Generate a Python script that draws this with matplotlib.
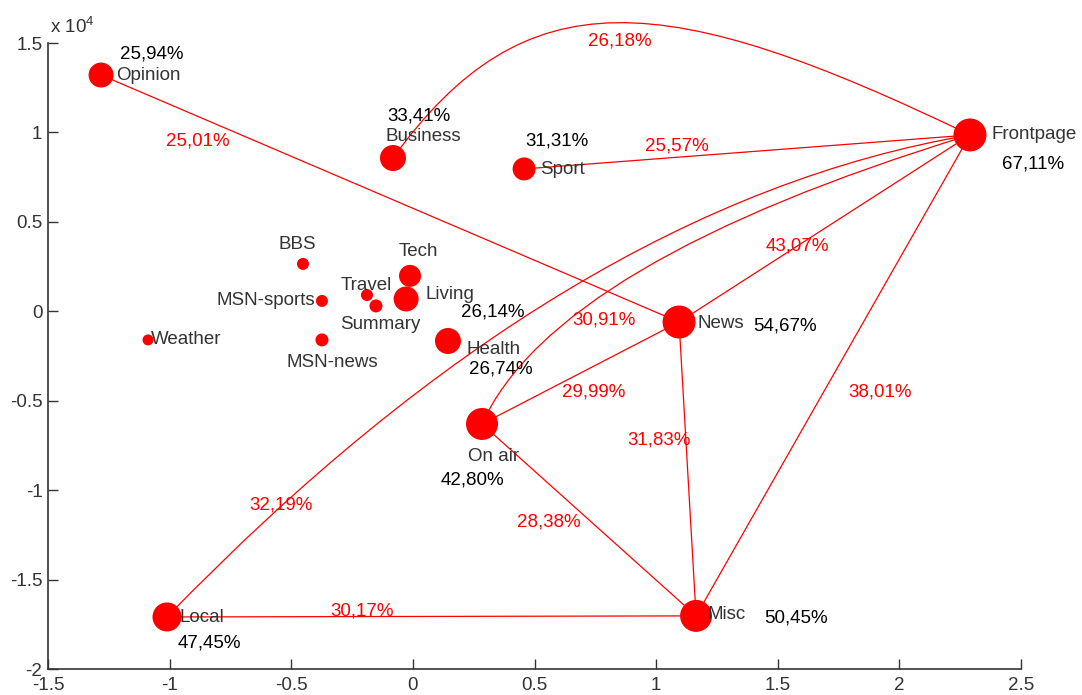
import numpy as np
import matplotlib
matplotlib.use("Agg")
import matplotlib.pyplot as plt
from matplotlib.path import Path
from matplotlib.patches import PathPatch

plt.rcParams['font.family'] = ['Liberation Sans', 'DejaVu Sans']
plt.rcParams['mathtext.fontset'] = 'custom'
plt.rcParams['mathtext.rm'] = 'Liberation Sans'
plt.rcParams['mathtext.it'] = 'Liberation Sans'

# === Node data (MDS coordinates) ===
names = ["Opinion", "Business", "Sport", "Frontpage", "BBS", "Tech", "Travel",
         "Summary", "MSN-sports", "Living", "Weather", "MSN-news", "Health",
         "News", "On air", "Local", "Misc"]
xs = [-1.282, -0.082, 0.457, 2.290, -0.452, -0.012, -0.189, -0.152, -0.374,
      -0.028, -1.089, -0.374, 0.144, 1.094, 0.284, -1.011, 1.164]
ys = [13210, 8570, 7960, 9860, 2650, 1980, 910, 300, 580, 690, -1600, -1600,
      -1660, -600, -6300, -17090, -17030]
weight = [25, 26, 23, 33, 12, 22, 12, 13, 12, 25, 11, 13, 26, 33, 32, 29, 32]

pct_nodes = ["Opinion", "Business", "Sport", "Frontpage", "Living", "Health",
             "News", "On air", "Local", "Misc"]
pct_values = ["25,94%", "33,41%", "31,31%", "67,11%", "26,14%", "26,74%",
              "54,67%", "42,80%", "47,45%", "50,45%"]

# === Edges ===
edge_a = ["Opinion", "Business", "Sport", "Frontpage", "Frontpage", "On air",
          "Local", "News", "News", "On air", "Local"]
edge_b = ["News", "Frontpage", "Frontpage", "News", "Misc", "Frontpage",
          "Frontpage", "On air", "Misc", "Misc", "Misc"]
edge_pct = ["25,01%", "26,18%", "25,57%", "43,07%", "38,01%", "30,91%",
            "32,19%", "29,99%", "31,83%", "28,38%", "30,17%"]

# curve shape: (along, across) fractions of the chord for each control point
bends = {1: [(0.252, 0.418), (0.492, 0.374)],
         5: [(0.311, 0.201)],
         6: [(0.642, 0.176)]}

# label placement: t along edge, offset in pixels
edge_lab = [(0.168, 0, -24), (0.5, 3, -18), (0.343, 0, 11), (0.595, 0, 0),
            (0.534, 56, 0), (0.42, 0, -26), (0.15, -6, -4), (0.431, 0, -26),
            (0.401, -27, 0), (0.271, 9, -46), (0.369, 0, 6)]

name_lab = {"Opinion": (15, 0, 'left'), "Business": (-7, 22, 'left'),
            "Sport": (16, -1, 'left'), "Frontpage": (22, 0, 'left'),
            "BBS": (-6, 19, 'center'), "Tech": (8, 24, 'center'),
            "Travel": (-1, 10, 'center'), "Summary": (4, -19, 'center'),
            "MSN-sports": (-7, 0, 'right'), "Living": (19, 4, 'left'),
            "Weather": (3, 0, 'left'), "MSN-news": (10, -23, 'center'),
            "Health": (19, -9, 'left'), "News": (18, -1, 'left'),
            "On air": (-14, -33, 'left'), "Local": (13, -1, 'left'),
            "Misc": (11, 1, 'left')}
pct_lab = {"Opinion": (19, 21), "Business": (-6, 42), "Sport": (1, 28),
           "Frontpage": (32, -29), "Living": (55, -13), "Health": (21, -28),
           "News": (74, -4), "On air": (-41, -56), "Local": (11, -26),
           "Misc": (68, -2)}

SC = 1e4
pos = {n: (x, y / SC) for n, x, y in zip(names, xs, ys)}


def bezier(pts, t):
    pts = [np.array(p) for p in pts]
    while len(pts) > 1:
        pts = [(1 - t) * p + t * q for p, q in zip(pts[:-1], pts[1:])]
    return pts[0]


fig = plt.figure(figsize=(10.82, 6.95), dpi=100)
ax = fig.add_axes([0.0444, 0.0374, 0.8993, 0.9007])

red = '#ff0000'
fs = 13.5

for i, (a, b) in enumerate(zip(edge_a, edge_b)):
    p0 = np.array(pos[a])
    p1 = np.array(pos[b])
    d = p1 - p0
    perp = np.array([-d[1], d[0]])
    ctrl = [p0 + u * d + v * perp for u, v in bends.get(i, [])]
    pts = [p0] + ctrl + [p1]
    if len(pts) == 2:
        codes = [Path.MOVETO, Path.LINETO]
    elif len(pts) == 3:
        codes = [Path.MOVETO, Path.CURVE3, Path.CURVE3]
    else:
        codes = [Path.MOVETO, Path.CURVE4, Path.CURVE4, Path.CURVE4]
    verts = [(p[0], p[1] * SC) for p in pts]
    ax.add_patch(PathPatch(Path(verts, codes), fc='none', ec=red, lw=0.9,
                           clip_on=False, zorder=1))
    t, dx, dy = edge_lab[i]
    lp = bezier(pts, t)
    ax.annotate(edge_pct[i], (lp[0], lp[1] * SC), xytext=(dx, dy),
                textcoords='offset pixels', ha='center', va='center',
                color=red, fontsize=fs, zorder=4, annotation_clip=False)

ax.scatter(xs, ys, s=(np.array(weight) * 0.72) ** 2, c=red, linewidths=0,
           zorder=3, clip_on=False)

for n, x, y in zip(names, xs, ys):
    dx, dy, ha = name_lab[n]
    ax.annotate(n, (x, y), xytext=(dx, dy), textcoords='offset pixels',
                ha=ha, va='center', color='#333333', fontsize=fs, zorder=4,
                annotation_clip=False)

for n, p in zip(pct_nodes, pct_values):
    dx, dy = pct_lab[n]
    x, y = pos[n]
    ax.annotate(p, (x, y * SC), xytext=(dx, dy), textcoords='offset pixels',
                ha='left', va='center', color='black', fontsize=fs, zorder=4,
                annotation_clip=False)

ax.set_xlim(-1.5, 2.5)
ax.set_ylim(-2e4, 1.5e4)
xt = [-1.5, -1, -0.5, 0, 0.5, 1, 1.5, 2, 2.5]
yt = [-2, -1.5, -1, -0.5, 0, 0.5, 1, 1.5]
ax.set_xticks(xt)
ax.set_xticklabels([f"{v:g}" for v in xt])
ax.set_yticks([v * SC for v in yt])
ax.set_yticklabels([f"{v:g}" for v in yt])
ax.tick_params(direction='in', length=7, width=1, colors='#333333',
               labelsize=fs)
ax.tick_params(axis='x', pad=6)
ax.tick_params(axis='y', pad=4)
for s in ['top', 'right']:
    ax.spines[s].set_visible(False)
for s in ['left', 'bottom']:
    ax.spines[s].set_color('#333333')
    ax.spines[s].set_linewidth(1.2)
ax.annotate(r'x 10$^{4}$', (0, 1), xycoords='axes fraction', xytext=(2, 6),
            textcoords='offset pixels', ha='left', va='bottom',
            color='#333333', fontsize=fs)

fig.savefig("out.png", dpi=100)
